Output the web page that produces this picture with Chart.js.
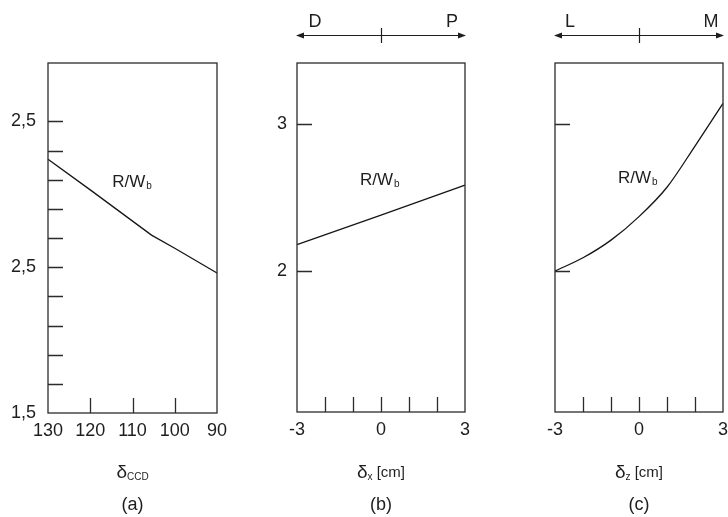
<!DOCTYPE html>
<html lang="en">
<head>
<meta charset="UTF-8">
<title>R/Wb vs displacement</title>
<script src="https://cdn.jsdelivr.net/npm/chart.js"></script>
<style>
  html, body { margin: 0; padding: 0; background: #fff; }
  #wrap { position: relative; width: 728px; height: 517px; overflow: hidden; }
  canvas { position: absolute; top: 0; }
</style>
</head>
<body>
<div id="wrap">
  <canvas id="chartA" width="240" height="517" style="left:0px"></canvas>
  <canvas id="chartB" width="250" height="517" style="left:240px"></canvas>
  <canvas id="chartC" width="260" height="517" style="left:490px"></canvas>
</div>

<script>
// Panel (a): R/Wb against delta_CCD
const xA = [130, 120, 105.5, 100, 90];
const yA = [3.24, 3.03, 2.72, 2.63, 2.46];
const xTicksA = [130, 120, 110, 100, 90];
const xLabelsA = ['130', '120', '110', '100', '90'];
const yTicksA = [1.5, 1.7, 1.9, 2.1, 2.3, 2.5, 2.7, 2.9, 3.1, 3.3, 3.5];
const yLabelsA = ['1,5', '', '', '', '', '2,5', '', '', '', '', '2,5'];

// Panel (b): R/Wb against delta_x [cm]
const xB = [-3, 0, 3];
const yB = [2.18, 2.38, 2.585];

// Panel (c): R/Wb against delta_z [cm]
const xC = [-3, -2, -1, 0, 1, 2, 3];
const yC = [2.00, 2.09, 2.21, 2.37, 2.57, 2.85, 3.14];

// shared tick sets for (b) and (c)
const xTicksBC = [-3, -2, -1, 0, 1, 2, 3];
const xLabelsBC = ['-3', '', '', '0', '', '', '3'];
const yTicksBC = [2, 3];
const yLabelsB = ['2', '3'];
const yLabelsC = ['', ''];

const FONT = '"Liberation Sans", Arial, sans-serif';
const INK = '#1e1e1e';

// frame, inner tick marks, label, top arrow and captions
const panelPlugin = {
    id: 'panel',
    afterDraw(chart, args, opts) {
        const ctx = chart.ctx;
        const area = chart.chartArea;
        const xs = chart.scales.x;
        const ys = chart.scales.y;
        ctx.save();

        // box round the plot area
        ctx.strokeStyle = '#2b2b2b';
        ctx.lineWidth = 1.3;
        ctx.strokeRect(area.left, area.top, area.right - area.left, area.bottom - area.top);

        // tick marks pointing inwards
        ctx.beginPath();
        xs.ticks.forEach(t => {
            if (t.value === xs.min || t.value === xs.max) return;
            const px = Math.round(xs.getPixelForValue(t.value)) + 0.5;
            ctx.moveTo(px, area.bottom);
            ctx.lineTo(px, area.bottom - 15);
        });
        ys.ticks.forEach(t => {
            if (t.value === ys.min || t.value === ys.max) return;
            const py = Math.round(ys.getPixelForValue(t.value)) + 0.5;
            ctx.moveTo(area.left, py);
            ctx.lineTo(area.left + 15, py);
        });
        ctx.stroke();

        // R/Wb label
        ctx.fillStyle = INK;
        ctx.textBaseline = 'alphabetic';
        ctx.textAlign = 'left';
        const nx = xs.getPixelForValue(opts.note.x);
        const ny = ys.getPixelForValue(opts.note.y);
        ctx.font = '17px ' + FONT;
        ctx.fillText('R/W', nx, ny);
        const w = ctx.measureText('R/W').width;
        ctx.font = '10px ' + FONT;
        ctx.fillText('b', nx + w + 1, ny + 2);

        // double arrow above (b) and (c)
        if (opts.arrow) {
            const ay = 35.5;
            const mid = Math.round(xs.getPixelForValue(0)) + 0.5;
            ctx.strokeStyle = INK;
            ctx.lineWidth = 1.2;
            ctx.beginPath();
            ctx.moveTo(area.left + 3, ay);
            ctx.lineTo(area.right - 3, ay);
            ctx.moveTo(mid, 28);
            ctx.lineTo(mid, 43);
            ctx.stroke();
            ctx.beginPath();
            ctx.moveTo(area.left - 1, ay);
            ctx.lineTo(area.left + 7, ay - 3);
            ctx.lineTo(area.left + 7, ay + 3);
            ctx.closePath();
            ctx.moveTo(area.right + 1, ay);
            ctx.lineTo(area.right - 7, ay - 3);
            ctx.lineTo(area.right - 7, ay + 3);
            ctx.closePath();
            ctx.fill();
            ctx.font = '18px ' + FONT;
            ctx.textAlign = 'center';
            ctx.fillText(opts.arrow[0], area.left + opts.arrowInset[0], 27);
            ctx.fillText(opts.arrow[1], area.right - opts.arrowInset[1], 27);
        }

        // axis caption and panel tag
        const cx = (area.left + area.right) / 2;
        const cap = opts.caption;
        ctx.textAlign = 'left';
        ctx.font = '19px ' + FONT;
        const wSym = ctx.measureText('δ').width;
        ctx.font = '10px ' + FONT;
        const wSub = ctx.measureText(cap.sub).width;
        ctx.font = '15px ' + FONT;
        const wUnit = cap.unit ? ctx.measureText(cap.unit).width : 0;
        let x0 = cx - (wSym + wSub + wUnit) / 2;
        ctx.font = '19px ' + FONT;
        ctx.fillText('δ', x0, 478);
        ctx.font = '10px ' + FONT;
        ctx.fillText(cap.sub, x0 + wSym, 480);
        if (cap.unit) {
            ctx.font = '15px ' + FONT;
            ctx.fillText(cap.unit, x0 + wSym + wSub, 477);
        }
        ctx.textAlign = 'center';
        ctx.font = '18px ' + FONT;
        ctx.fillText(cap.tag, cx, 510);

        ctx.restore();
    }
};

function makePanel(id, pts, cfg) {
    const ctx = document.getElementById(id).getContext('2d');
    return new Chart(ctx, {
        type: 'line',
        data: {
            datasets: [{
                data: pts,
                borderColor: '#151515',
                borderWidth: 1.3,
                pointRadius: 0,
                fill: false,
                clip: false,
                tension: cfg.smooth ? 0.4 : 0,
                cubicInterpolationMode: cfg.smooth ? 'monotone' : 'default'
            }]
        },
        options: {
            responsive: false,
            animation: false,
            events: [],
            layout: { padding: { left: 0, top: 63, right: cfg.padRight, bottom: cfg.padBottom } },
            scales: {
                x: {
                    type: 'linear',
                    min: cfg.xMin,
                    max: cfg.xMax,
                    reverse: !!cfg.reverse,
                    afterBuildTicks: s => { s.ticks = cfg.xTicks.map(v => ({ value: v })); },
                    afterFit: s => { s.height = 40; },
                    grid: { display: false, drawTicks: false },
                    border: { display: false },
                    ticks: {
                        autoSkip: false,
                        maxRotation: 0,
                        padding: 7,
                        color: INK,
                        font: { size: 18, family: FONT },
                        callback: (v, i) => cfg.xLabels[i]
                    }
                },
                y: {
                    type: 'linear',
                    min: cfg.yMin,
                    max: cfg.yMax,
                    afterBuildTicks: s => { s.ticks = cfg.yTicks.map(v => ({ value: v })); },
                    afterFit: s => { s.width = cfg.yWidth; },
                    grid: { display: false, drawTicks: false },
                    border: { display: false },
                    ticks: {
                        autoSkip: false,
                        padding: cfg.yPad,
                        color: INK,
                        font: { size: 18, family: FONT },
                        callback: (v, i) => cfg.yLabels[i]
                    }
                }
            },
            plugins: {
                legend: { display: false },
                tooltip: { enabled: false },
                panel: {
                    note: cfg.note,
                    arrow: cfg.arrow,
                    arrowInset: cfg.arrowInset,
                    caption: cfg.caption
                }
            }
        },
        plugins: [panelPlugin]
    });
}

const toPoints = (xs, ys) => xs.map((x, i) => ({ x: x, y: ys[i] }));

makePanel('chartA', toPoints(xA, yA), {
    xMin: 90, xMax: 130, reverse: true,
    xTicks: xTicksA, xLabels: xLabelsA,
    yMin: 1.5, yMax: 3.9, yTicks: yTicksA, yLabels: yLabelsA,
    yWidth: 48, yPad: 12, padRight: 23, padBottom: 64,
    note: { x: 114.8, y: 3.05 },
    caption: { sub: 'CCD', unit: '', tag: '(a)' }
});

makePanel('chartB', toPoints(xB, yB), {
    xMin: -3, xMax: 3,
    xTicks: xTicksBC, xLabels: xLabelsBC,
    yMin: 1.041, yMax: 3.415, yTicks: yTicksBC, yLabels: yLabelsB,
    yWidth: 57, yPad: 10, padRight: 25, padBottom: 65,
    note: { x: -0.75, y: 2.585 },
    arrow: ['D', 'P'], arrowInset: [18, 13],
    caption: { sub: 'x', unit: ' [cm]', tag: '(b)' }
});

makePanel('chartC', toPoints(xC, yC), {
    xMin: -3, xMax: 3, smooth: true,
    xTicks: xTicksBC, xLabels: xLabelsBC,
    yMin: 1.041, yMax: 3.415, yTicks: yTicksBC, yLabels: yLabelsC,
    yWidth: 65, yPad: 10, padRight: 27, padBottom: 65,
    note: { x: -0.75, y: 2.6 },
    arrow: ['L', 'M'], arrowInset: [15, 12],
    caption: { sub: 'z', unit: ' [cm]', tag: '(c)' }
});
</script>
</body>
</html>
